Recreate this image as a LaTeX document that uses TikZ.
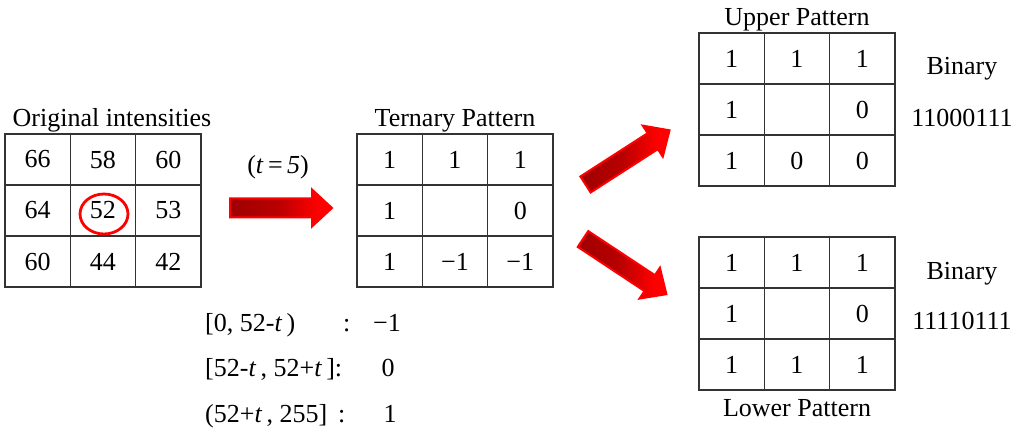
\documentclass[tikz,border=0pt]{standalone}
\usepackage{fontspec}
\setmainfont{Liberation Serif}
% dark-to-bright red fill along the arrow's length
\pgfdeclarehorizontalshading{arrowshade}{100bp}{color(0bp)=(red!62!black); color(25bp)=(red!62!black); color(48bp)=(red!72!black); color(68bp)=(red); color(100bp)=(red)}
\tikzset{
  cell/.style={draw=black!80, line width=1.2pt, minimum width=65.3pt, minimum height=51pt,
    inner sep=0pt, font=\fontsize{26}{30}\selectfont},
  label/.style={inner sep=0pt, font=\fontsize{26}{30}\selectfont},
  blockarrow/.style={draw=red, line width=2pt, line join=miter, shading=arrowshade},
}
% 3x3 grid of cells: name, left x, top y, nine entries
\newcommand\patterngrid[4]{%
  \foreach \v [count=\k from 0] in {#4} {
    \pgfmathtruncatemacro\r{\k/3}
    \pgfmathtruncatemacro\c{mod(\k,3)}
    \node[cell] (#1-\r-\c) at ({#2+(\c+0.5)*65.3},{#3+(\r+0.5)*51}) {\v};
  }}
% thick shaded arrow starting at #1, pointing at angle #2, length #3
\newcommand\bigarrow[3]{%
  \begin{scope}[shift={(#1)}, rotate=#2]
    \shade[blockarrow] (0,-9.5) -- ({#3-20},-9.5) -- ({#3-20},-18.5) -- (#3,0)
      -- ({#3-20},18.5) -- ({#3-20},9.5) -- (0,9.5) -- cycle;
  \end{scope}}
\begin{document}
\begin{tikzpicture}[x=1pt,y=-1pt]
\useasboundingbox (0,0) rectangle (1020,443);

% original 3x3 neighbourhood
\node[label, anchor=base] (torig) at (112,127) {Original intensities};
\patterngrid{o}{5}{134}{66,58,60,64,52,53,60,44,42}
\draw[red, line width=2.8pt] (104,214) ellipse [x radius=24, y radius=20];

% threshold
\node[label, anchor=base] (tval) at (278,174) {(\textit{t}\,=\,\textit{5})};

% ternary pattern
\node[label, anchor=base] (ttern) at (455,127) {Ternary Pattern};
\patterngrid{t}{357}{134}{1,1,1,1,{},0,1,−1,−1}

% upper and lower patterns
\node[label, anchor=base] (tup) at (797,26) {Upper Pattern};
\patterngrid{u}{699}{33}{1,1,1,1,{},0,1,0,0}
\node[label, anchor=base] (tlow) at (797,417) {Lower Pattern};
\patterngrid{l}{699}{237}{1,1,1,1,{},0,1,1,1}

\node[label, anchor=base] (bup) at (962,75) {Binary};
\node[label, anchor=base] (cup) at (962,127) {11000111};
\node[label, anchor=base] (blow) at (962,280) {Binary};
\node[label, anchor=base] (clow) at (962,330) {11110111};

% coding rule
\node[label, anchor=base west] (r1) at (205,332) {[0, 52-\textit{t}\,)};
\node[label, anchor=base west] (c1) at (343,332) {:};
\node[label, anchor=base] (v1) at (387,332) {−1};
\node[label, anchor=base west] (r2) at (205,377) {[52-\textit{t}\,, 52+\textit{t}\,]:};
\node[label, anchor=base] (v2) at (388,377) {0};
\node[label, anchor=base west] (r3) at (205,422) {(52+\textit{t}\,, 255]\, :};
\node[label, anchor=base] (v3) at (390,422) {1};

% block arrows
\coordinate (a0) at (230,208);
\coordinate (a1) at (585.5,184.5);
\coordinate (a2) at (583,239);
\bigarrow{a0}{0}{102}
\bigarrow{a1}{32.8}{100}
\bigarrow{a2}{-33.5}{100}
\end{tikzpicture}
\end{document}
